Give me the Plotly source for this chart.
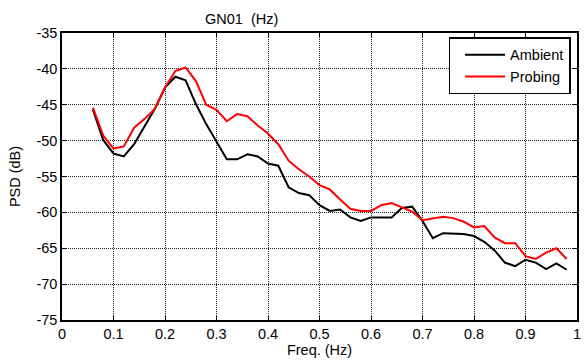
import numpy as np
import plotly.graph_objects as go

freq = [0.06, 0.08, 0.10, 0.12, 0.14, 0.16, 0.18, 0.20, 0.22, 0.24, 0.26, 0.28, 0.30, 0.32,
        0.34, 0.36, 0.38, 0.40, 0.42, 0.44, 0.46, 0.48, 0.50, 0.52, 0.54, 0.56, 0.58, 0.60,
        0.62, 0.64, 0.66, 0.68, 0.70, 0.72, 0.74, 0.76, 0.78, 0.80, 0.82, 0.84, 0.86, 0.88,
        0.90, 0.92, 0.94, 0.96, 0.98]

ambient = [-45.7, -49.9, -51.8, -52.2, -50.5, -48.0, -45.6, -42.6, -41.1, -41.6, -44.9, -47.7,
           -50.2, -52.6, -52.6, -51.9, -52.2, -53.2, -53.5, -56.5, -57.3, -57.6, -59.0, -59.8,
           -59.6, -60.7, -61.2, -60.7, -60.7, -60.7, -59.4, -59.2, -61.2, -63.6, -62.9, -63.0,
           -63.0, -63.3, -64.1, -65.3, -67.0, -67.5, -66.6, -67.0, -67.9, -67.1, -68.0]

probing = [-45.4, -49.3, -51.1, -50.8, -48.2, -47.0, -45.6, -42.6, -40.3, -39.8, -41.7, -45.0,
           -45.7, -47.3, -46.3, -46.6, -47.9, -49.0, -50.5, -52.8, -54.0, -55.0, -56.2, -56.8,
           -58.2, -59.5, -59.8, -59.8, -59.0, -58.7, -59.3, -59.9, -61.1, -60.8, -60.6, -60.8,
           -61.3, -62.1, -61.9, -63.5, -64.3, -64.3, -66.1, -66.5, -65.6, -65.0, -66.5]

x_ticks = [0, 0.1, 0.2, 0.3, 0.4, 0.5, 0.6, 0.7, 0.8, 0.9, 1]
x_ticklabels = ["0", "0.1", "0.2", "0.3", "0.4", "0.5", "0.6", "0.7", "0.8", "0.9", "1"]
y_ticks = [-75, -70, -65, -60, -55, -50, -45, -40, -35]
y_ticklabels = ["-75", "-70", "-65", "-60", "-55", "-50", "-45", "-40", "-35"]

FONT = "Arial, Liberation Sans, Helvetica, sans-serif"
FS = 14.5

fig = go.Figure()
fig.add_trace(go.Scatter(x=freq, y=ambient, mode="lines", name="Ambient", legendgroup="a",
                         line=dict(color="black", width=2)))
fig.add_trace(go.Scatter(x=freq, y=probing, mode="lines", name="Probing", legendgroup="b",
                         line=dict(color="#ff0000", width=2)))

axis_common = dict(
    showline=True, linecolor="black", linewidth=1.5, mirror="ticks",
    ticks="inside", ticklen=4, tickcolor="black",
    showgrid=True, gridcolor="#222222", griddash="1px,1px", gridwidth=1,
    zeroline=False, ticklabeloverflow="allow",
    tickfont=dict(family=FONT, size=FS, color="black"),
)

fig.update_xaxes(range=[0, 1], tickvals=x_ticks, ticktext=x_ticklabels,
                 title=dict(text="Freq. (Hz)", font=dict(family=FONT, size=FS, color="black"), standoff=3),
                 **axis_common)
fig.update_yaxes(range=[-75, -35], tickvals=y_ticks, ticktext=y_ticklabels,
                 title=dict(text="PSD (dB)", font=dict(family=FONT, size=FS, color="black"), standoff=12),
                 **axis_common)

fig.update_layout(
    width=584, height=362,
    margin=dict(l=61.5, r=2.5, t=33, b=42),
    paper_bgcolor="white", plot_bgcolor="white",
    showlegend=True,
    legend=dict(x=0.9875, y=0.985, xanchor="right", yanchor="top",
                bgcolor="white", bordercolor="black", borderwidth=1.5,
                font=dict(family=FONT, size=FS, color="black"),
                traceorder="grouped", tracegroupgap=0, itemwidth=40, indentation=10),
    annotations=[dict(text="GN01\u00a0\u00a0(Hz)", x=0.348, y=1, xref="paper", yref="paper",
                      xanchor="center", yanchor="bottom", yshift=4, showarrow=False,
                      font=dict(family=FONT, size=FS, color="black"))],
)

fig.write_html("out.html")
